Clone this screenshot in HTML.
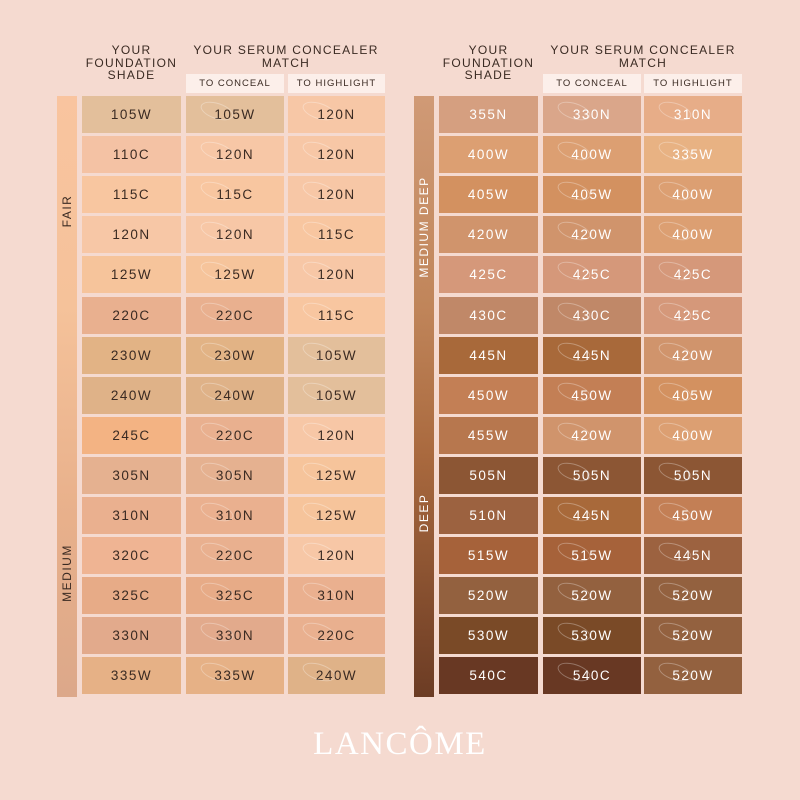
<!DOCTYPE html>
<html><head><meta charset="utf-8"><style>
body{margin:0;width:800px;height:800px;background:#f5dad0;position:relative;overflow:hidden;font-family:"Liberation Sans",sans-serif}
.c{position:absolute;height:37px;line-height:37px;text-align:center;font-size:13.5px;letter-spacing:1.5px;color:#3a2a22}
.w{color:#fff}
.sw{position:absolute;left:14px;top:7px;width:32px;height:14px;border-radius:50%;border:1px solid rgba(255,255,255,.3);transform:rotate(18deg)}
.h{position:absolute;text-align:center;font-size:12px;letter-spacing:1.3px;color:#3a2a22;line-height:12.5px}
.sub{position:absolute;top:74px;height:19px;line-height:19px;background:#fcefea;text-align:center;font-size:9.5px;letter-spacing:1px;color:#3a2a22}
.bar{position:absolute;top:96px;width:20px;height:601px}
.lab{position:absolute;color:#3a2a22;font-size:12px;letter-spacing:1.5px;transform:rotate(-90deg);transform-origin:center;white-space:nowrap;text-align:center;width:120px}
</style></head><body>
<div class="h" style="left:82px;width:99px;top:44px">YOUR<br>FOUNDATION<br>SHADE</div>
<div class="h" style="left:186px;width:200px;top:44px">YOUR SERUM CONCEALER<br>MATCH</div>
<div class="sub" style="left:186px;width:98px">TO CONCEAL</div>
<div class="sub" style="left:288px;width:97px">TO HIGHLIGHT</div>
<div class="h" style="left:439px;width:99px;top:44px">YOUR<br>FOUNDATION<br>SHADE</div>
<div class="h" style="left:543px;width:200px;top:44px">YOUR SERUM CONCEALER<br>MATCH</div>
<div class="sub" style="left:543px;width:98px">TO CONCEAL</div>
<div class="sub" style="left:644px;width:98px">TO HIGHLIGHT</div>
<div class="bar" style="left:57px;background:linear-gradient(#f9c49f,#f5c29a 35%,#e8b08b 70%,#dca88a)"></div>
<div class="bar" style="left:414px;background:linear-gradient(#d09a76,#c0855a 35%,#a9693e 60%,#6c3c24)"></div>
<div class="lab" style="left:7px;top:204px">FAIR</div>
<div class="lab" style="left:7px;top:566px">MEDIUM</div>
<div class="lab" style="left:364px;top:220px;color:#fff">MEDIUM DEEP</div>
<div class="lab" style="left:364px;top:506px;color:#fff">DEEP</div>
<div id="t"></div>
<div style="position:absolute;left:0;width:800px;top:726px;text-align:center;font-family:'Liberation Serif',serif;font-size:33px;color:#fff;letter-spacing:1.5px">LANCÔME</div>
<script>
var L=[["105W","#e3bf9b","105W","#e3bf9b","120N","#f7c7a6"],["110C","#f4c2a4","120N","#f7c7a6","120N","#f7c7a6"],["115C","#f8c6a0","115C","#f8c6a0","120N","#f7c7a6"],["120N","#f7c7a6","120N","#f7c7a6","115C","#f8c6a0"],["125W","#f6c49b","125W","#f6c49b","120N","#f7c7a6"],["220C","#e9b08f","220C","#e9b08f","115C","#f8c6a0"],["230W","#e2b385","230W","#e2b385","105W","#e3bf9b"],["240W","#dfb288","240W","#dfb288","105W","#e3bf9b"],["245C","#f3b383","220C","#e9b08f","120N","#f7c7a6"],["305N","#e5b190","305N","#e5b190","125W","#f6c49b"],["310N","#eab08f","310N","#eab08f","125W","#f6c49b"],["320C","#efb493","220C","#e9b08f","120N","#f7c7a6"],["325C","#e7ab87","325C","#e7ab87","310N","#eab08f"],["330N","#e2aa8c","330N","#e2aa8c","220C","#e9b08f"],["335W","#e6b186","335W","#e6b186","240W","#dfb288"]];
var R=[["355N","#d59f80","330N","#daa68a","310N","#e7ad88"],["400W","#dc9f72","400W","#dc9f72","335W","#e8b283"],["405W","#d39160","405W","#d39160","400W","#dc9f72"],["420W","#d0946c","420W","#d0946c","400W","#dc9f72"],["425C","#d5987a","425C","#d5987a","425C","#d5987a"],["430C","#c08868","430C","#c08868","425C","#d5987a"],["445N","#a8693a","445N","#a8693a","420W","#d0946c"],["450W","#c37f55","450W","#c37f55","405W","#d39160"],["455W","#b7774e","420W","#d0946c","400W","#dc9f72"],["505N","#8c5634","505N","#8c5634","505N","#8c5634"],["510N","#9c6240","445N","#a8693a","450W","#c37f55"],["515W","#a6623a","515W","#a6623a","445N","#9c6240"],["520W","#93613f","520W","#93613f","520W","#93613f"],["530W","#7a4a27","530W","#7a4a27","520W","#93613f"],["540C","#683823","540C","#683823","520W","#93613f"]];
var h="";
function tab(D,xs,ws,cls){D.forEach(function(r,i){var y=96+i*40.1;for(var k=0;k<3;k++){h+='<div class="c '+cls+'" style="left:'+xs[k]+'px;width:'+ws[k]+'px;top:'+y+'px;background:'+r[k*2+1]+'">'+(k?'<span class="sw"></span>':'')+r[k*2]+'</div>';}});}
tab(L,[82,186,288],[99,98,97],"");
tab(R,[439,543,644],[99,98,98],"w");
document.getElementById("t").innerHTML=h;
</script>
</body></html>
